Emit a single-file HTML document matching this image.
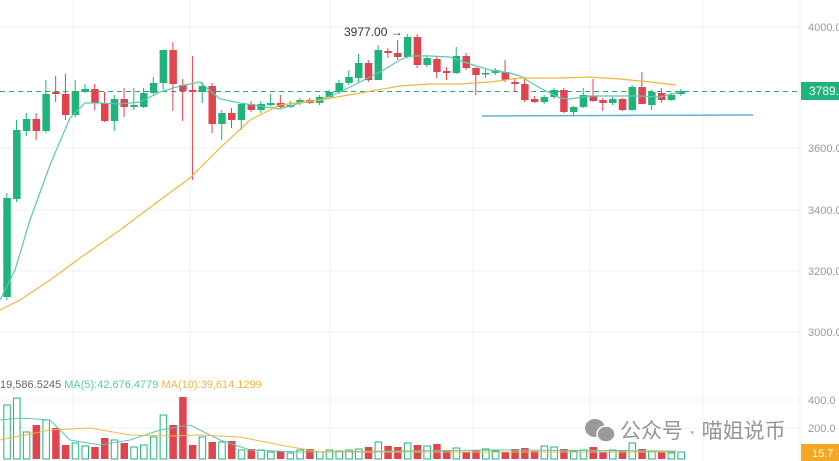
<!DOCTYPE html>
<html><head><meta charset="utf-8"><style>
html,body{margin:0;padding:0;background:#fff;}
svg{display:block;font-family:"Liberation Sans","Noto Sans CJK SC",sans-serif;}
</style></head><body>
<svg id="s" width="839" height="461" viewBox="0 0 839 461" xmlns="http://www.w3.org/2000/svg">
<g stroke="#f1f1f1" stroke-width="1">
<line x1="73" y1="0" x2="73" y2="461"/><line x1="190" y1="0" x2="190" y2="461"/>
<line x1="330" y1="0" x2="330" y2="461"/><line x1="473" y1="0" x2="473" y2="461"/>
<line x1="590" y1="0" x2="590" y2="461"/><line x1="703" y1="0" x2="703" y2="461"/>
<line x1="0" y1="27" x2="800" y2="27"/><line x1="0" y1="148" x2="800" y2="148"/>
<line x1="0" y1="210" x2="800" y2="210"/><line x1="0" y1="271" x2="800" y2="271"/>
<line x1="0" y1="332" x2="800" y2="332"/><line x1="0" y1="400" x2="800" y2="400"/>
<line x1="0" y1="428" x2="800" y2="428"/><line x1="800" y1="0" x2="800" y2="461"/>
</g>
<g fill="#999" font-size="11">
<text x="808" y="31">4000.0</text><text x="808" y="152">3600.0</text>
<text x="808" y="214">3400.0</text><text x="808" y="275">3200.0</text>
<text x="808" y="336">3000.0</text><text x="808" y="404">400.0</text>
<text x="808" y="432">200.0</text>
</g>
<line x1="0" y1="91.5" x2="800" y2="91.5" stroke="#26a87a" stroke-width="1" stroke-dasharray="5,4"/>
<line x1="482" y1="116" x2="753" y2="115" stroke="#5ab4e2" stroke-width="1.5"/>
<g id="c"></g>
<polyline fill="none" stroke="#5cc8b2" stroke-width="1.2" points="0,300 15,270 30,220 50,165 70,118 85,103 100,103 120,104 140,102 160,92 180,86 200,82 220,99 240,103 260,106 280,109 300,103 320,100 340,92 360,82 380,72 400,60 410,56 430,56 450,57 470,64 490,70 510,73 520,76 540,88 560,98 570,99 590,96 620,96 640,96 660,97 680,92"/>
<polyline fill="none" stroke="#f0b840" stroke-width="1.2" points="0,310 20,300 50,280 80,258 120,230 160,200 190,178 220,148 250,120 280,105 320,100 360,93 400,86 430,84 460,84 490,82 520,78 560,78 590,77 620,79 650,82 676,85"/>
<text x="344" y="36" font-size="12" fill="#333">3977.00 →</text>
<rect x="801" y="82" width="38" height="18" fill="#1fb47a"/>
<text x="809" y="95" font-size="12" fill="#fff">3789.</text>
<text x="0" y="388" font-size="11"><tspan fill="#666">19,586.5245 </tspan><tspan fill="#5cc8b2">MA(5):42,676.4779 </tspan><tspan fill="#f0b840">MA(10):39,614.1299</tspan></text>
<g id="v"></g>
<polyline fill="none" stroke="#5cc8b2" stroke-width="1" points="0,420 20,418 50,420 70,440 100,445 130,440 160,430 190,425 220,440 250,450 300,452 400,451 500,450 676,451"/>
<polyline fill="none" stroke="#f0b840" stroke-width="1" points="0,440 50,430 90,428 130,435 170,436 200,435 240,437 280,445 320,452 676,452"/>
<rect x="801" y="444" width="38" height="17" fill="#f5a623"/>
<text x="812" y="457" font-size="11" fill="#fff">15.7</text>
<g fill="#9a9a9a"><ellipse cx="595" cy="428" rx="10" ry="9"/><ellipse cx="606" cy="434" rx="9" ry="8" stroke="#fff" stroke-width="1.5"/></g>
<text x="620" y="438" font-size="21" fill="#8a8a8a" opacity="0.9">公众号 · 喵姐说币</text>
</svg>
<script>
var C=[[198,297,193,300,1],[130,199,120,202,1],[119,131,113,136,1],[119,131,113,140,0],[94,131,80,133,1],[92,94,76,102,0],[94,115,74,120,0],[91,115,80,117,1],[89,92,84,93,1],[89,103,84,110,0],[103,121,92,122,0],[99,121,95,131,1],[99,107,88,117,0],[105,107,88,110,1],[93,107,88,108,1],[83,93,77,96,1],[50,83,50,90,1],[50,84,42,111,0],[85,91,79,121,0],[90,92,56,180,0],[86,92,82,103,1],[86,124,83,133,0],[113,124,110,140,1],[113,120,108,128,0],[104,120,104,130,1],[104,110,101,112,0],[104,110,101,113,1],[103,105,94,106,1],[103,107,95,108,0],[105,107,101,108,1],[100,103,98,105,1],[100,103,98,104,0],[97,103,95,105,1],[92,97,90,99,1],[83,92,80,94,1],[77,83,70,85,1],[63,78,54,82,1],[63,80,60,82,0],[50,80,45,80,1],[51,53,48,58,0],[53,57,40,60,0],[37,57,34,58,1],[37,65,34,68,0],[58,65,55,67,1],[59,72,57,78,0],[71,73,67,80,0],[56,73,47,74,1],[56,68,53,70,0],[68,75,67,95,0],[73,74,68,78,1],[70,73,68,75,1],[72,80,60,82,0],[82,84,78,92,0],[84,100,77,102,0],[99,102,96,103,0],[97,102,95,104,1],[90,97,88,99,1],[90,112,88,113,0],[107,112,106,116,1],[95,107,88,108,1],[96,101,79,102,0],[100,103,98,111,0],[99,103,97,105,1],[99,110,98,111,0],[87,110,85,111,1],[87,104,72,104,0],[92,105,90,110,1],[93,100,88,103,0],[95,100,93,101,1],[91,94,89,96,1]];
var V=[405,398,432,425,420,428,445,443,446,447,438,440,443,447,445,437,415,425,397,445,437,442,442,441,450,449,450,452,451,453,450,449,452,450,451,450,449,447,442,446,447,443,445,446,444,450,448,452,450,449,451,452,449,448,451,446,447,449,451,450,447,452,450,450,443,449,451,452,453];
var s="",v="";
for(var i=0;i<C.length;i++){var x=7.3+9.77*i-4,c=C[i],col=c[4]?"#1fb47a":"#e0454f";
s+='<line x1="'+(x+3.5)+'" x2="'+(x+3.5)+'" y1="'+c[2]+'" y2="'+c[3]+'" stroke="'+col+'" stroke-width="1"/>';
s+='<rect x="'+x+'" y="'+c[0]+'" width="7.5" height="'+Math.max(1.5,c[1]-c[0])+'" fill="'+col+'"/>';
var t=V[i]||452;
if(c[4])v+='<rect x="'+(x+0.5)+'" y="'+t+'" width="6.5" height="'+(459-t)+'" fill="none" stroke="#1fb47a" stroke-width="1"/>';
else v+='<rect x="'+x+'" y="'+t+'" width="7.5" height="'+(459-t)+'" fill="#e0454f"/>';}
document.getElementById("c").innerHTML=s;document.getElementById("v").innerHTML=v;
</script>
</body></html>
